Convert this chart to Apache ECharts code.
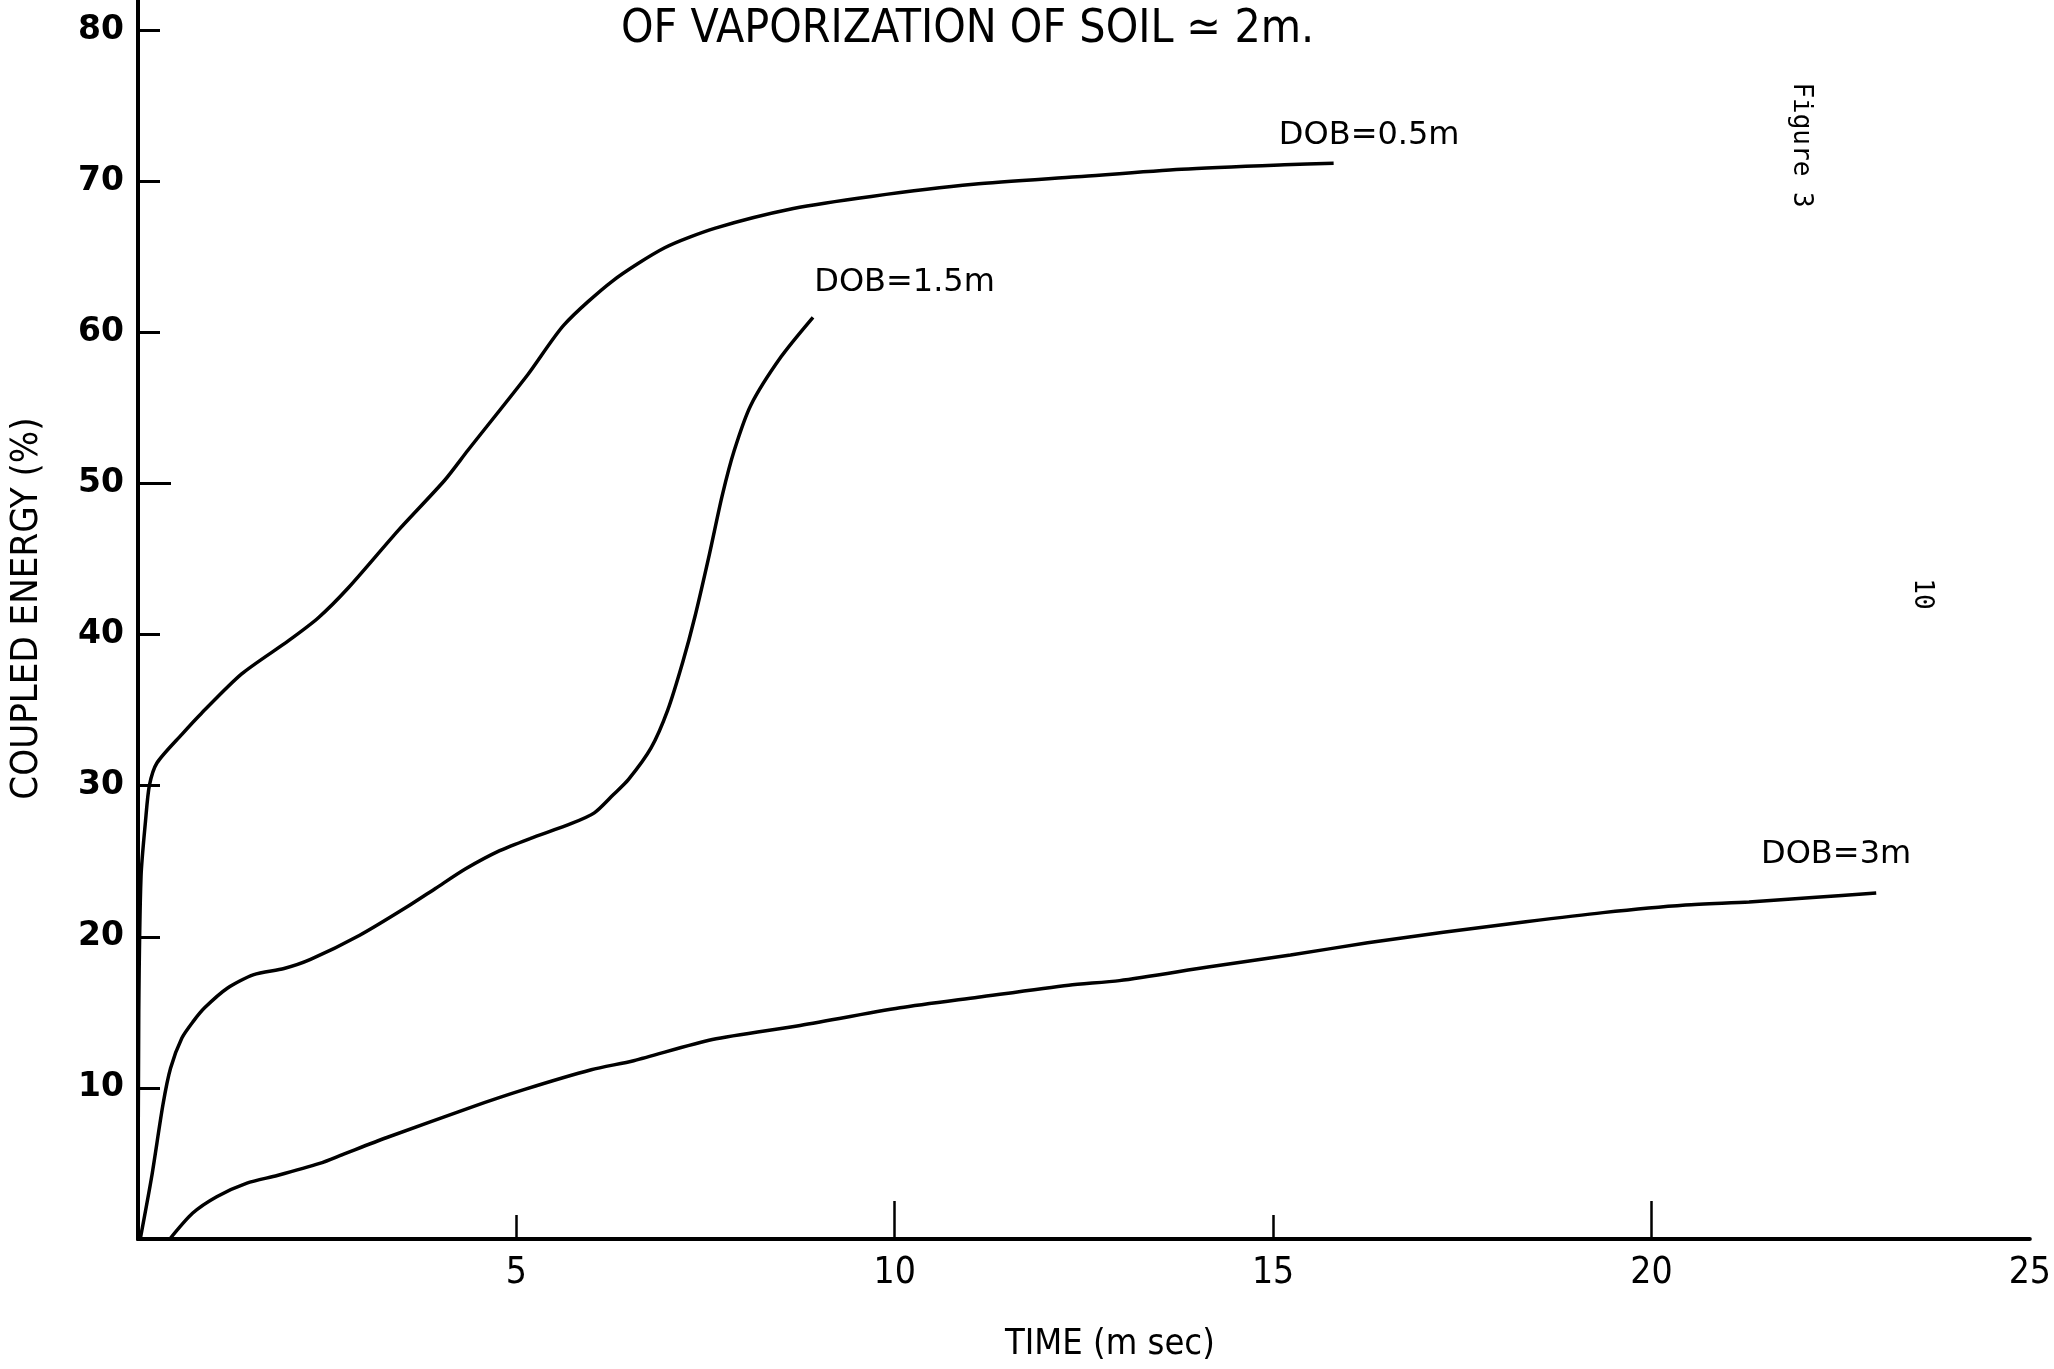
<!DOCTYPE html>
<html>
<head>
<meta charset="utf-8">
<script src="https://cdn.jsdelivr.net/npm/echarts@6/dist/echarts.min.js"></script>
<style>
  html, body { margin: 0; padding: 0; background: #fff; }
  #chart { width: 2054px; height: 1369px; }
</style>
</head>
<body>
<div id="chart"></div>
<script>
// Coupled energy (%) versus time (msec) for three depths of burial.
const timeDob05   = [0, 0.01, 0.04, 0.10, 0.15, 0.25, 0.58, 0.84, 1.37, 1.99, 2.38, 2.78, 3.44, 4.05, 4.36, 5.15, 5.63, 6.27, 6.96, 7.63, 8.66, 9.69, 11.04, 12.41, 13.79, 15.15, 15.8];
const energyDob05 = [0, 15, 24, 27.7, 30.0, 31.5, 33.4, 34.8, 37.4, 39.6, 41.1, 43.1, 46.9, 50.2, 52.2, 57.2, 60.5, 63.4, 65.6, 66.9, 68.2, 69.0, 69.8, 70.3, 70.8, 71.1, 71.2];

const timeDob15   = [0.03, 0.18, 0.33, 0.43, 0.58, 0.73, 0.88, 1.18, 1.53, 1.93, 2.28, 2.93, 3.53, 3.93, 4.33, 4.78, 5.18, 5.73, 6.03, 6.28, 6.48, 6.78, 7.00, 7.20, 7.36, 7.55, 7.72, 7.88, 8.10, 8.50, 8.92];
const energyDob15 = [0, 4.1, 8.9, 11.3, 13.3, 14.4, 15.3, 16.6, 17.5, 17.9, 18.5, 20.1, 21.9, 23.2, 24.5, 25.7, 26.5, 27.5, 28.2, 29.4, 30.4, 32.5, 35.0, 38.2, 41.2, 45.3, 49.2, 52.2, 55.2, 58.4, 61.0];

const timeDob3    = [0.42, 0.72, 1.04, 1.44, 1.84, 2.40, 2.71, 3.28, 4.39, 5.11, 5.99, 6.55, 7.59, 8.71, 10.07, 11.10, 12.30, 12.97, 14.14, 15.23, 16.25, 17.25, 18.34, 19.36, 20.45, 21.29, 22.13, 22.97];
const energyDob3  = [0, 1.7, 2.8, 3.7, 4.2, 5.0, 5.6, 6.7, 8.7, 9.9, 11.2, 11.8, 13.2, 14.1, 15.3, 16.0, 16.8, 17.1, 18.0, 18.8, 19.6, 20.3, 21.0, 21.6, 22.1, 22.3, 22.6, 22.9];

const seriesNames = ['DOB=0.5m', 'DOB=1.5m', 'DOB=3m'];
const xTickLabels = [5, 10, 15, 20, 25];
const yTickLabels = [10, 20, 30, 40, 50, 60, 70, 80];

const pairs = (xs, ys) => xs.map((x, i) => [x, ys[i]]);

const NARROW = "'Liberation Sans Narrow', 'DejaVu Sans Condensed', 'Roboto Condensed', sans-serif";
const ROUND = "'DejaVu Sans', 'Noto Sans', sans-serif";
const INK = '#000';

function curve(name, data, labelCoord) {
  return {
    name: name,
    type: 'line',
    data: data,
    smooth: 0.25,
    symbol: 'none',
    lineStyle: { color: INK, width: 3.5 },
    silent: true,
    markPoint: {
      symbol: 'circle',
      symbolSize: 1,
      itemStyle: { color: 'rgba(0,0,0,0)' },
      label: {
        show: true,
        position: 'inside',
        formatter: name,
        color: INK,
        fontFamily: ROUND,
        fontSize: 32
      },
      data: [{ coord: labelCoord }]
    }
  };
}

const chart = echarts.init(document.getElementById('chart'), null, { renderer: 'canvas' });

chart.setOption({
  backgroundColor: '#fff',
  animation: false,
  title: {
    text: 'OF VAPORIZATION OF SOIL \u2243 2m.',
    left: 616,
    top: 2,
    textStyle: { fontFamily: NARROW, fontSize: 46, fontWeight: 'normal', color: INK }
  },
  grid: { left: 136, right: 22, top: 0, bottom: 130, containLabel: false },
  xAxis: [
    {
      type: 'value',
      min: 0,
      max: 25,
      interval: 5,
      splitLine: { show: false },
      axisLine: { show: true, onZero: false, lineStyle: { color: INK, width: 4 } },
      axisTick: { show: true, inside: true, length: 24, customValues: [5, 15], lineStyle: { color: INK, width: 2.5 } },
      axisLabel: {
        customValues: xTickLabels,
        margin: 16,
        color: INK,
        fontFamily: NARROW,
        fontSize: 37
      },
      name: 'TIME (m sec)',
      nameLocation: 'middle',
      nameGap: 88,
      nameTextStyle: { fontFamily: NARROW, fontSize: 36, color: INK, padding: [0, 0, 0, 52] }
    },
    {
      type: 'value',
      min: 0,
      max: 25,
      position: 'bottom',
      splitLine: { show: false },
      axisLine: { show: false },
      axisTick: { show: true, inside: true, length: 38, customValues: [10, 20], lineStyle: { color: INK, width: 2.5 } },
      axisLabel: { show: false }
    }
  ],
  yAxis: [
    {
      type: 'value',
      min: 0,
      max: 82,
      interval: 10,
      splitLine: { show: false },
      axisLine: { show: true, onZero: false, lineStyle: { color: INK, width: 4 } },
      axisTick: { show: true, inside: true, length: 22, customValues: [10, 20, 30, 40, 60, 70, 80], lineStyle: { color: INK, width: 3 } },
      axisLabel: {
        customValues: yTickLabels,
        margin: 14,
        color: INK,
        fontFamily: ROUND,
        fontWeight: 'bold',
        fontSize: 33
      },
      name: 'COUPLED ENERGY (%)',
      nameLocation: 'middle',
      nameGap: 92,
      nameRotate: 90,
      nameTextStyle: { fontFamily: NARROW, fontSize: 38, color: INK, padding: [0, 0, 0, 22] }
    },
    {
      type: 'value',
      min: 0,
      max: 82,
      position: 'left',
      splitLine: { show: false },
      axisLine: { show: false },
      axisTick: { show: true, inside: true, length: 33, customValues: [50], lineStyle: { color: INK, width: 3 } },
      axisLabel: { show: false }
    },
    {
      type: 'value',
      min: 0,
      max: 82,
      position: 'right',
      splitLine: { show: false },
      axisLine: { show: true, lineStyle: { color: INK, width: 4 } },
      axisTick: { show: false },
      axisLabel: { show: false }
    }
  ],
  graphic: [
    {
      type: 'text',
      x: 1801,
      y: 145,
      rotation: -Math.PI / 2,
      style: {
        text: 'Figure 3',
        font: "26px 'DejaVu Sans Mono', monospace",
        fill: INK,
        align: 'center',
        verticalAlign: 'middle'
      }
    },
    {
      type: 'text',
      x: 1922,
      y: 594,
      rotation: -Math.PI / 2,
      style: {
        text: '10',
        font: "26px 'DejaVu Sans Mono', monospace",
        fill: INK,
        align: 'center',
        verticalAlign: 'middle'
      }
    }
  ],
  series: [
    curve(seriesNames[0], pairs(timeDob05, energyDob05), [16.27, 73.0]),
    curve(seriesNames[1], pairs(timeDob15, energyDob15), [10.13, 63.3]),
    curve(seriesNames[2], pairs(timeDob3, energyDob3), [22.44, 25.45])
  ]
});
</script>
</body>
</html>
